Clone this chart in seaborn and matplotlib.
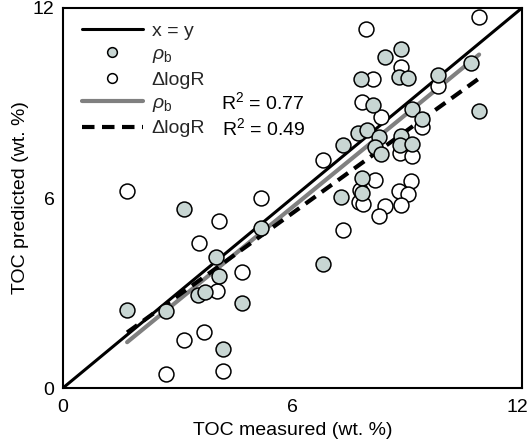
import numpy as np
import pandas as pd
import matplotlib
matplotlib.use("Agg")
import matplotlib.pyplot as plt
import matplotlib.transforms as mtransforms
import seaborn as sns
from matplotlib.lines import Line2D

# ---- data ----
rho_measured = [8.83, 8.42, 7.78, 8.79, 9.01, 9.80, 10.68, 10.88, 8.10, 9.13, 9.40,
                7.72, 7.94, 8.27, 8.83, 8.82, 9.12, 7.33, 8.16, 8.31, 7.81, 7.81,
                7.26, 6.81, 5.17, 3.17, 4.00, 4.09, 3.54, 3.71, 4.67, 1.68, 2.69, 4.19]
rho_predicted = [10.69, 10.44, 9.75, 9.81, 9.79, 9.89, 10.27, 8.76, 8.94, 8.81, 8.50,
                 8.06, 8.15, 7.94, 7.97, 7.67, 7.70, 7.67, 7.62, 7.38, 6.62, 6.17,
                 6.02, 3.92, 5.04, 5.66, 4.13, 3.54, 2.95, 3.03, 2.67, 2.46, 2.44, 1.22]

dlogr_measured = [10.88, 7.92, 8.83, 8.10, 9.80, 7.81, 8.31, 9.40, 8.81, 9.12, 6.81,
                  8.17, 9.10, 7.76, 8.79, 9.01, 7.75, 7.84, 8.42, 8.83, 8.27, 7.33,
                  1.68, 5.17, 4.07, 3.56, 4.67, 4.02, 3.17, 3.69, 2.69, 4.19]
dlogr_predicted = [11.72, 11.34, 10.15, 9.77, 9.54, 9.04, 8.57, 8.23, 7.42, 7.33, 7.20,
                   6.57, 6.55, 6.25, 6.23, 6.13, 5.88, 5.81, 5.76, 5.79, 5.43, 4.99,
                   6.23, 6.01, 5.27, 4.57, 3.68, 3.06, 1.52, 1.76, 0.44, 0.54]

# fitted lines (slope, intercept)
rho_fit = [0.987, -0.21]
dlogr_fit = [0.872, 0.29]
rho_r2 = "0.77"
dlogr_r2 = "0.49"
ticks = [0, 6, 12]

sns.set_theme(style="white")
plt.rcParams['font.family'] = ['Liberation Sans', 'DejaVu Sans']
plt.rcParams['mathtext.fontset'] = 'custom'
plt.rcParams['mathtext.rm'] = 'Liberation Sans'
plt.rcParams['mathtext.it'] = 'Liberation Sans:italic'

fill_col = "#c8d6d3"
gray_col = "#808080"

fig = plt.figure(figsize=(5.28, 4.41), dpi=100)
ax = fig.add_axes([0.119, 0.120, 0.8696, 0.862])

# x = y line
ax.plot([0, 12], [0, 12], color="black", lw=2.2, zorder=1)

# fit lines
xr = np.array([min(rho_measured), max(rho_measured)])
ax.plot(xr, rho_fit[0] * xr + rho_fit[1], color=gray_col, lw=3, zorder=2)
xd = np.array([min(dlogr_measured), max(dlogr_measured)])
ax.plot(xd, dlogr_fit[0] * xd + dlogr_fit[1], color="black", lw=3,
        dashes=(3, 1.8), zorder=2)

df_rho = pd.DataFrame({"m": rho_measured, "p": rho_predicted})
df_dl = pd.DataFrame({"m": dlogr_measured, "p": dlogr_predicted})
sns.scatterplot(data=df_dl, x="m", y="p", ax=ax, s=115, facecolor="white",
                edgecolor="black", linewidth=1.1, zorder=3)
sns.scatterplot(data=df_rho, x="m", y="p", ax=ax, s=115, facecolor=fill_col,
                edgecolor="black", linewidth=1.1, zorder=4)

ax.set_xlim(0, 12)
ax.set_ylim(0, 12)
ax.set_xticks(ticks)
ax.set_yticks(ticks)
ax.tick_params(axis="both", length=0, labelsize=14, colors="black")
ax.tick_params(axis="x", pad=8)
ax.tick_params(axis="y", pad=6)
ax.set_xlabel("TOC measured (wt. %)", fontsize=14, color="black", labelpad=4)
ax.set_ylabel("TOC predicted (wt. %)", fontsize=14, color="black", labelpad=3)
for sp in ax.spines.values():
    sp.set_color("black")
    sp.set_linewidth(1.5)
    sp.set_visible(True)

# nudge the last x tick label left so it stays inside the figure
fig.canvas.draw()
lbl = ax.get_xticklabels()[-1]
lbl.set_transform(lbl.get_transform() +
                  mtransforms.ScaledTranslation(-5 / 100, 0, fig.dpi_scale_trans))

handles = [
    Line2D([], [], color="black", lw=2.2),
    Line2D([], [], ls="none", marker="o", markersize=7, markerfacecolor=fill_col,
           markeredgecolor="black", markeredgewidth=1.1),
    Line2D([], [], ls="none", marker="o", markersize=7, markerfacecolor="white",
           markeredgecolor="black", markeredgewidth=1.1),
    Line2D([], [], color=gray_col, lw=3),
    Line2D([], [], color="black", lw=3, dashes=(3, 1.8)),
]
labels = ["x = y", r"$\rho_\mathrm{b}$", "ΔlogR", r"$\rho_\mathrm{b}$", "ΔlogR"]
leg = ax.legend(handles, labels, loc="upper left", frameon=False, fontsize=14,
                handlelength=3.15, handletextpad=0.45, labelspacing=0.3,
                borderaxespad=0.0, borderpad=0.0, bbox_to_anchor=(0.041, 0.963))

# R^2 annotations aligned to legend rows
ax.text(0.344, 0.753, f"R$^2$ = {rho_r2}", transform=ax.transAxes, fontsize=14,
        va="center", ha="left", color="black")
ax.text(0.346, 0.684, f"R$^2$ = {dlogr_r2}", transform=ax.transAxes, fontsize=14,
        va="center", ha="left", color="black")

fig.savefig("out.png", dpi=100)
